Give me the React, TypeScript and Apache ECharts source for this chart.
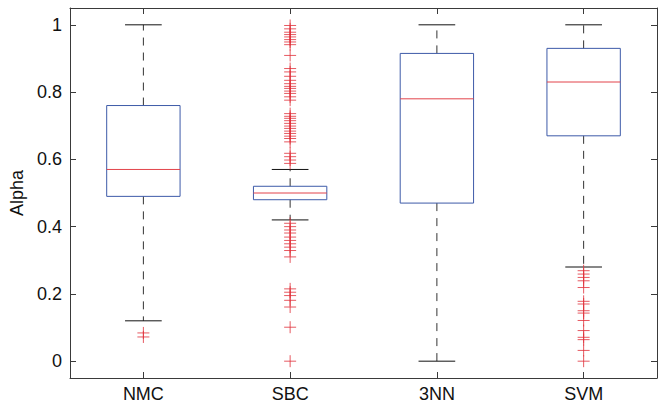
import React, { useEffect, useRef } from "react";
import * as echarts from "echarts";

const categories = ["NMC", "SBC", "3NN", "SVM"];
// [lowWhisker, q1, median, q3, highWhisker]
const boxStats = [
  [0.12, 0.49, 0.57, 0.76, 1.0],
  [0.42, 0.48, 0.5, 0.52, 0.57],
  [0.0, 0.47, 0.78, 0.915, 1.0],
  [0.28, 0.67, 0.83, 0.93, 1.0],
];
const outliersNMC = [0.084, 0.072];
const outliersSBC = [
  0.998, 0.988, 0.978, 0.971, 0.964, 0.956, 0.949, 0.941, 0.909, 0.87, 0.86,
  0.847, 0.835, 0.825, 0.817, 0.811, 0.803, 0.796, 0.786, 0.776, 0.736, 0.728,
  0.722, 0.715, 0.707, 0.699, 0.692, 0.684, 0.677, 0.669, 0.662, 0.652, 0.618,
  0.608, 0.598, 0.588, 0.41, 0.4, 0.39, 0.381, 0.369, 0.359, 0.349, 0.339,
  0.329, 0.31, 0.215, 0.205, 0.195, 0.181, 0.161, 0.101, 0.0,
];
const outliers3NN: number[] = [];
const outliersSVM = [
  0.269, 0.259, 0.249, 0.239, 0.219, 0.178, 0.17, 0.15, 0.143, 0.121, 0.091,
  0.071, 0.064, 0.032, 0.0,
];
const yTickLabels = ["0", "0.2", "0.4", "0.6", "0.8", "1"];

const BOX_BLUE = "#3d5aa8";
const MED_RED = "#e2434b";
const OUT_RED = "#e02f3a";
const WHISK = "#333333";
const AXIS = "#3a3a3a";
const FONT = "Liberation Sans, Arial, Helvetica, sans-serif";

export default function App() {
  const ref = useRef<HTMLDivElement>(null);
  useEffect(() => {
    if (!ref.current) return;
    const chart = echarts.init(ref.current, undefined, { renderer: "svg" });
    const boxData = boxStats.map((s, i) => [i, ...s]);
    const outlierSets = [outliersNMC, outliersSBC, outliers3NN, outliersSVM];
    const outlierData: number[][] = [];
    outlierSets.forEach((arr, i) => arr.forEach((v) => outlierData.push([i, v])));

    const axisCommon = {
      axisLine: { show: true, onZero: false, lineStyle: { color: AXIS, width: 1 } },
      splitLine: { show: false },
    };

    chart.setOption({
      animation: false,
      grid: { left: 70, right: 9, top: 8, bottom: 30, containLabel: false, outerBoundsMode: "none" },
      xAxis: [
        {
          type: "category",
          data: categories,
          boundaryGap: true,
          position: "bottom",
          ...axisCommon,
          axisTick: { show: true, inside: true, alignWithLabel: true, length: 6, lineStyle: { color: AXIS } },
          axisLabel: { color: "#111", fontSize: 18, fontFamily: FONT, margin: 7 },
        },
        {
          type: "category",
          data: categories,
          boundaryGap: true,
          position: "top",
          ...axisCommon,
          axisTick: { show: true, inside: true, alignWithLabel: true, length: 6, lineStyle: { color: AXIS } },
          axisLabel: { show: false },
        },
      ],
      yAxis: [
        {
          type: "value",
          min: -0.05,
          max: 1.05,
          splitNumber: 5,
          position: "left",
          name: "Alpha",
          nameLocation: "middle",
          nameGap: 44,
          nameRotate: 90,
          nameTextStyle: { color: "#111", fontSize: 18, fontFamily: FONT },
          ...axisCommon,
          axisTick: { show: true, inside: true, length: 6, lineStyle: { color: AXIS } },
          axisLabel: {
            color: "#111",
            fontSize: 18,
            fontFamily: FONT,
            margin: 8,
            showMinLabel: false,
            showMaxLabel: false,
            formatter: (v: number) => {
              const idx = Math.round(v / 0.2);
              if (Math.abs(v - idx * 0.2) > 1e-6 || idx < 0 || idx >= yTickLabels.length) return "";
              return yTickLabels[idx];
            },
          },
        },
        {
          type: "value",
          min: -0.05,
          max: 1.05,
          splitNumber: 5,
          position: "right",
          ...axisCommon,
          axisTick: { show: true, inside: true, length: 6, lineStyle: { color: AXIS } },
          axisLabel: { show: false },
        },
      ],
      series: [
        {
          type: "custom",
          xAxisIndex: 0,
          yAxisIndex: 0,
          data: boxData,
          renderItem: (params: any, api: any) => {
            const idx = api.value(0);
            const lo = api.value(1);
            const q1 = api.value(2);
            const med = api.value(3);
            const q3 = api.value(4);
            const hi = api.value(5);
            const band = api.size([1, 0])[0];
            const half = band * 0.25;
            const cap = band * 0.125;
            const pLo = api.coord([idx, lo]);
            const pQ1 = api.coord([idx, q1]);
            const pMed = api.coord([idx, med]);
            const pQ3 = api.coord([idx, q3]);
            const pHi = api.coord([idx, hi]);
            const x = pMed[0];
            const dash = { stroke: WHISK, lineWidth: 1, lineDash: [8, 7], fill: null };
            return {
              type: "group",
              children: [
                { type: "line", shape: { x1: x, y1: pQ3[1], x2: x, y2: pHi[1] }, style: dash },
                { type: "line", shape: { x1: x, y1: pQ1[1], x2: x, y2: pLo[1] }, style: dash },
                { type: "line", shape: { x1: x - cap, y1: pHi[1], x2: x + cap, y2: pHi[1] }, style: { stroke: "#111", lineWidth: 1 } },
                { type: "line", shape: { x1: x - cap, y1: pLo[1], x2: x + cap, y2: pLo[1] }, style: { stroke: "#111", lineWidth: 1 } },
                {
                  type: "rect",
                  shape: { x: x - half, y: pQ3[1], width: half * 2, height: pQ1[1] - pQ3[1] },
                  style: { stroke: BOX_BLUE, lineWidth: 1, fill: "none" },
                },
                { type: "line", shape: { x1: x - half, y1: pMed[1], x2: x + half, y2: pMed[1] }, style: { stroke: MED_RED, lineWidth: 1 } },
              ],
            };
          },
        },
        {
          type: "scatter",
          xAxisIndex: 0,
          yAxisIndex: 0,
          data: outlierData,
          symbol: "path://M0,5L10,5M5,0L5,10",
          symbolSize: 12,
          itemStyle: { color: "none", borderColor: OUT_RED, borderWidth: 1 },
          z: 5,
        },
      ],
    });
    return () => chart.dispose();
  }, []);
  return <div ref={ref} style={{ width: 666, height: 408, position: "absolute", left: 0, top: 0, background: "#fff" }} />;
}
